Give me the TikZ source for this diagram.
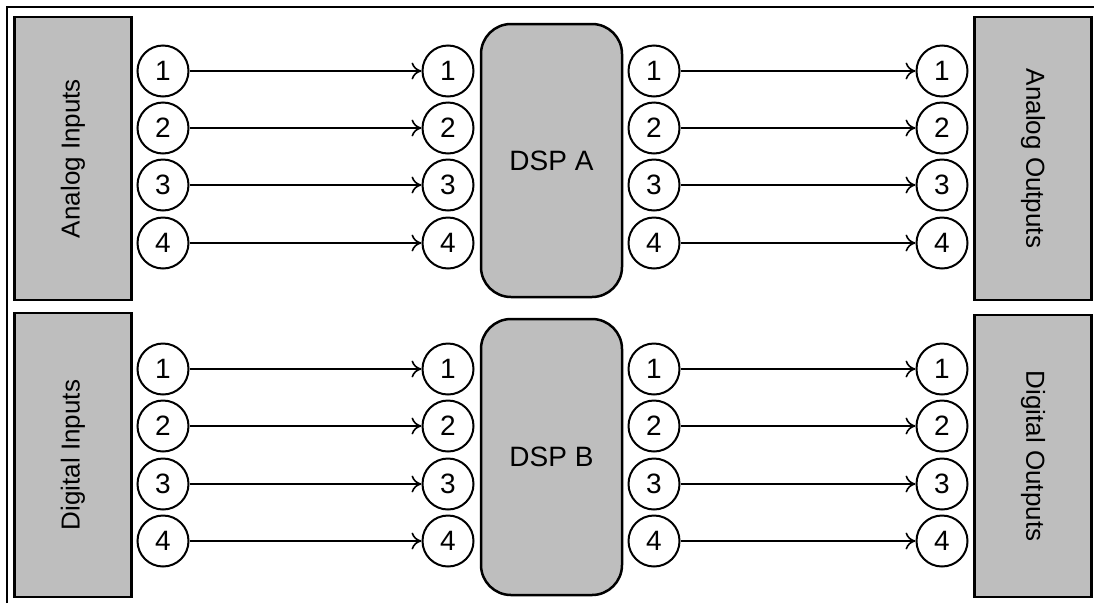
\documentclass[tikz,border=0pt]{standalone}
\usepackage{fontspec}
\setmainfont{Liberation Sans}
\usetikzlibrary{arrows.meta}

\definecolor{boxgray}{RGB}{190,190,190}

\begin{document}
\begin{tikzpicture}[x=1pt,y=-1pt,>={Computer Modern Rightarrow[length=10pt,width=17pt]},
  port/.style={circle,draw,line width=2pt,minimum size=51pt,inner sep=0pt,
    font=\fontsize{28}{28}\selectfont},
  iobox/.style={draw,line width=2.5pt,fill=boxgray,minimum height=117pt,
    inner sep=0pt,font=\fontsize{26}{26}\selectfont},
  dspbox/.style={draw,line width=2.5pt,fill=boxgray,rounded corners=30pt,
    minimum width=141pt,font=\fontsize{28}{28}\selectfont}]

\useasboundingbox (0,0) rectangle (1094,603);

% outer frame
\draw[line width=2.5pt] (7,603)--(7,7)--(1094,7);

% side boxes
\node[iobox,rotate=90,minimum width=283pt] (ain) at (73,158.5) {Analog Inputs};
\node[iobox,rotate=90,minimum width=284pt] (din) at (73,455) {Digital Inputs};
\node[iobox,rotate=-90,minimum width=283pt] (aout) at (1033,158.5) {Analog Outputs};
\node[iobox,rotate=-90,minimum width=282pt] (dout) at (1033,456) {Digital Outputs};

% processors
\node[dspbox,minimum height=273pt] (dspa) at (551.5,160.5) {DSP A};
\node[dspbox,minimum height=276pt] (dspb) at (551.5,457) {DSP B};

% channels
\foreach \i/\ya/\yb in {1/71/369,2/128/426,3/185/484,4/243/541}{
  \node[port] (ain\i) at (163,\ya) {\i};
  \node[port] (aa\i) at (448,\ya) {\i};
  \node[port] (ab\i) at (654,\ya) {\i};
  \node[port] (aout\i) at (942,\ya) {\i};
  \node[port] (din\i) at (163,\yb) {\i};
  \node[port] (ba\i) at (448,\yb) {\i};
  \node[port] (bb\i) at (654,\yb) {\i};
  \node[port] (dout\i) at (942,\yb) {\i};
  \draw[->,line width=1.6pt] (ain\i)--(aa\i);
  \draw[->,line width=1.6pt] (ab\i)--(aout\i);
  \draw[->,line width=1.6pt] (din\i)--(ba\i);
  \draw[->,line width=1.6pt] (bb\i)--(dout\i);
}

\end{tikzpicture}
\end{document}
